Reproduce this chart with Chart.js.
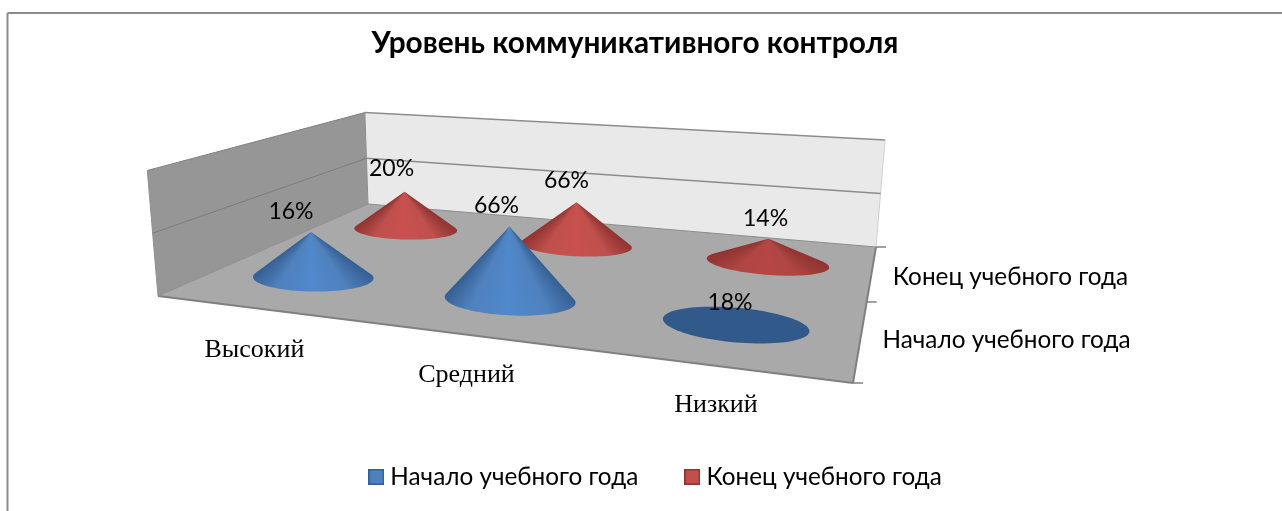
<!DOCTYPE html>
<html><head><meta charset="utf-8">
<style>html,body{margin:0;padding:0;background:#fff}#w{position:relative;width:1282px;height:511px}canvas{display:block}</style>
<script src="https://cdn.jsdelivr.net/npm/chart.js@4"></script>
</head><body><div id="w"><canvas id="c" width="1282" height="511"></canvas></div>
<script>
const categories = ['Высокий', 'Средний', 'Низкий'];
const seriesNames = ['Начало учебного года', 'Конец учебного года'];
const startLabels = [16, 66, 18];
const endLabels = [20, 66, 14];
const startHeights = [38, 57, 0];
const endHeights = [37, 40, 21];
const chartTitle = 'Уровень коммуникативного контроля';

// Perspective view of the floor (view units equal page pixels)
const FL=[158,296], FR=[853,383], BR=[876,247], BL=[368,204];
const WALL=126, VP=[515,4481], RU=0.1, RV=0.111;
const homography=(()=>{
  const dx1=FR[0]-BR[0],dx2=BL[0]-BR[0],sx=FL[0]-FR[0]+BR[0]-BL[0];
  const dy1=FR[1]-BR[1],dy2=BL[1]-BR[1],sy=FL[1]-FR[1]+BR[1]-BL[1];
  const det=dx1*dy2-dx2*dy1,g=(sx*dy2-dx2*sy)/det,h=(dx1*sy-sx*dy1)/det;
  return {g,h,a:FR[0]-FL[0]+g*FR[0],b:BL[0]-FL[0]+h*BL[0],c:FL[0],d:FR[1]-FL[1]+g*FR[1],e:BL[1]-FL[1]+h*BL[1],f:FL[1]};
})();
function project(u,v,pct){
  const H=homography,w=H.g*u+H.h*v+1;
  const x=(H.a*u+H.b*v+H.c)/w,y=(H.d*u+H.e*v+H.f)/w;
  const len=WALL*(pct||0)/100/w,dx=x-VP[0],dy=y-VP[1],n=Math.hypot(dx,dy);
  return {x:x+dx/n*len,y:y+dy/n*len};
}
const uOf=i=>(i+0.5)/categories.length, vOf=j=>(j+0.5)/seriesNames.length;
const heights=[startHeights,endHeights], labels=[startLabels,endLabels];
const palette=[{base:'#4f81bd',light:'#5089cc',dark:'#355f92',flat:'#31598a'},{base:'#c0504d',light:'#c9504e',dark:'#8f3331',flat:'#8a2f2d'}];
const labelLift=[[20,21,22],[23,22,20]];
const labelDx=[[-20,-13,-5],[-13,-10,-3]];
const catDx=[1,0.5,2.5],catDy=[42,41,40],sideDx=[22,21],sideDy=[2,5];

function mix(a,b,t){const p=s=>[1,3,5].map(k=>parseInt(s.slice(k,k+2),16));const A=p(a),B=p(b);
  return 'rgb('+A.map((v,i)=>Math.round(v+(B[i]-v)*t)).join(',')+')';}
function swatch(pal){
  const s=document.createElement('canvas');s.width=s.height=16;const x=s.getContext('2d');
  x.fillStyle=pal.base;x.fillRect(0,0,16,16);x.strokeStyle=pal.dark;x.lineWidth=1.5;x.strokeRect(.75,.75,14.5,14.5);return s;
}

const scene={id:'scene',
  afterLayout(ch){
    const X=ch.scales.x,Y=ch.scales.y;
    X.min=X.left;X.max=X.right;X.configure();
    Y.min=Y.top;Y.max=Y.bottom;Y.configure();
    ch.titleBlock.left-=6;ch.titleBlock.right-=6;
    ch.legend.left+=17;ch.legend.right+=17;
  },
  beforeDatasetsDraw(ch){
    const c=ch.ctx,X=ch.scales.x,Y=ch.scales.y;
    const P=(u,v,p)=>{const q=project(u,v,p);return [X.getPixelForValue(q.x),Y.getPixelForValue(q.y)];};
    const poly=(pts,fill,stroke,lw)=>{c.beginPath();pts.forEach((p,i)=>i?c.lineTo(p[0],p[1]):c.moveTo(p[0],p[1]));c.closePath();
      if(fill){c.fillStyle=fill;c.fill();}if(stroke){c.strokeStyle=stroke;c.lineWidth=lw||1;c.stroke();}};
    const line=(a,b,col,lw)=>{c.beginPath();c.moveTo(a[0],a[1]);c.lineTo(b[0],b[1]);c.strokeStyle=col;c.lineWidth=lw||1;c.stroke();};
    c.save();
    line([7.5,13],[1282,13],'#8c8c8c',2);line([7.5,13],[7.5,511],'#8c8c8c',2);
    poly([P(0,0,0),P(0,1,0),P(0,1,100),P(0,0,100)],'#969696');
    poly([P(0,1,0),P(1,1,0),P(1,1,100),P(0,1,100)],'#e9e9e9');
    poly([P(0,0,0),P(1,0,0),P(1,1,0),P(0,1,0)],'#a9a9a9');
    line(P(0,0,100),P(0,1,100),'#808080',1);line(P(0,1,100),P(1,1,100),'#8c8c8c',1.5);
    line(P(0,1,100),P(0,1,0),'#8c8c8c',1);line(P(1,1,100),P(1,1,0),'#d0d0d0',1);
    line(P(0,0,50),P(0,1,50),'#7d7d7d',1);line(P(0,1,50),P(1,1,50),'#8c8c8c',1.5);
    line(P(0,1,0),P(1,1,0),'#8c8c8c',1);line(P(0,0,0),P(0,0,100),'#909090',1);
    line(P(0,0,0),P(1,0,0),'#808080',2);line(P(1,0,0),P(1,1,0),'#808080',2);line(P(0,0,0),P(0,1,0),'#8c8c8c',1);
    [0,.5,1].forEach(v=>{const p=P(1,v,0);line(p,[p[0]+10,p[1]],'#808080',1.5);});
    c.restore();
  },
  afterDatasetsDraw(ch){
    const c=ch.ctx,X=ch.scales.x,Y=ch.scales.y;
    const P=(u,v,p)=>{const q=project(u,v,p);return [X.getPixelForValue(q.x),Y.getPixelForValue(q.y)];};
    c.save();
    const order=[];
    [1,0].forEach(j=>categories.forEach((_,i)=>order.push([i,j])));
    order.forEach(([i,j])=>{
      const h=heights[j][i],u=uOf(i),v=vOf(j),pal=palette[j];
      const ring=[];for(let k=0;k<96;k++){const a=k/96*2*Math.PI;ring.push(P(u+RU*Math.cos(a),v+RV*Math.sin(a),0));}
      const apex=ch.getDatasetMeta(j).data[i];const top=[apex.x,apex.y];
      let pts=ring.concat([top]).sort((a,b)=>a[0]-b[0]||a[1]-b[1]);
      const cr=(o,a,b)=>(a[0]-o[0])*(b[1]-o[1])-(a[1]-o[1])*(b[0]-o[0]);
      const lo=[],up=[];
      for(const p of pts){while(lo.length>1&&cr(lo[lo.length-2],lo[lo.length-1],p)<=0)lo.pop();lo.push(p);}
      for(const p of pts.slice().reverse()){while(up.length>1&&cr(up[up.length-2],up[up.length-1],p)<=0)up.pop();up.push(p);}
      const hull=lo.slice(0,-1).concat(up.slice(0,-1));
      c.beginPath();hull.forEach((p,k)=>k?c.lineTo(p[0],p[1]):c.moveTo(p[0],p[1]));c.closePath();
      if(h>0){
        const angs=ring.map(p=>Math.atan2(p[1]-top[1],p[0]-top[0]));
        const aR=Math.min(...angs),aL=Math.max(...angs),T=2*Math.PI,d=aL-aR;
        const g=c.createConicGradient(0,top[0],top[1]),lit=Math.min(1,h/30);
        const stop=(t,col)=>g.addColorStop((aR+d*t)/T,col);
        g.addColorStop(0,pal.dark);
        stop(0,pal.dark);stop(.2,mix(pal.flat,pal.base,lit));stop(.5,mix(pal.flat,pal.light,lit));
        stop(.8,mix(pal.flat,pal.base,lit));stop(1,pal.dark);
        g.addColorStop(1,pal.dark);
        c.fillStyle=g;
      } else c.fillStyle=pal.flat;
      c.fill();
    });
    c.textAlign='center';c.textBaseline='middle';c.fillStyle='#000';
    c.font='23px Lato, "Open Sans", sans-serif';
    seriesNames.forEach((_,j)=>categories.forEach((_,i)=>{
      const el=ch.getDatasetMeta(j).data[i];
      c.fillText(labels[j][i]+'%',el.x+labelDx[j][i],el.y-labelLift[j][i]);
    }));
    c.font='26px "Liberation Serif", serif';
    categories.forEach((t,i)=>{const p=P(uOf(i),0,0);c.fillText(t,p[0]+catDx[i],p[1]+catDy[i]);});
    c.textAlign='left';c.font='24.3px Lato, "Open Sans", sans-serif';
    seriesNames.forEach((t,j)=>{const p=P(1,vOf(j),0);c.fillText(t,p[0]+sideDx[j],p[1]+sideDy[j]);});
    c.restore();
  }};

new Chart(document.getElementById('c'),{
  type:'scatter',
  data:{datasets:seriesNames.map((name,j)=>({
    label:name,
    data:categories.map((_,i)=>project(uOf(i),vOf(j),heights[j][i])),
    backgroundColor:palette[j].base,borderColor:palette[j].dark,pointStyle:swatch(palette[j]),pointRadius:0
  }))},
  options:{responsive:false,animation:false,
    layout:{padding:{bottom:12}},
    scales:{x:{type:'linear',display:false},y:{type:'linear',display:false,reverse:true}},
    plugins:{
      title:{display:true,text:chartTitle,color:'#000',font:{family:'Lato, "Open Sans", sans-serif',size:29.8,weight:'bold'},padding:{top:26,bottom:10}},
      legend:{position:'bottom',labels:{color:'#000',usePointStyle:true,pointStyleWidth:4,boxHeight:16,padding:52,font:{family:'Lato, "Open Sans", sans-serif',size:24.3}}},
      tooltip:{enabled:false}
    }
  },
  plugins:[scene]
});
</script></body></html>
